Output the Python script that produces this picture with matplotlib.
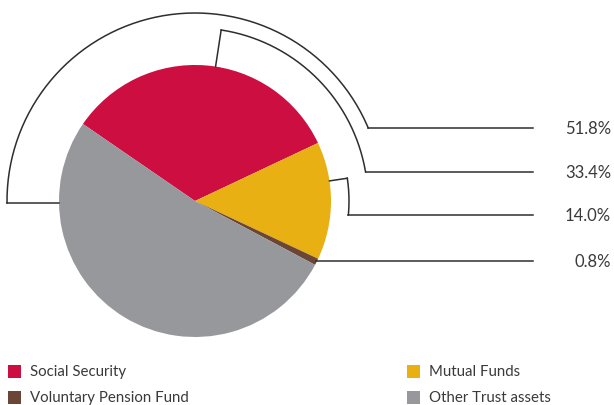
import numpy as np
import matplotlib
matplotlib.use("Agg")
import matplotlib.pyplot as plt
from matplotlib.patches import Rectangle

categories = ["Social Security", "Mutual Funds", "Voluntary Pension Fund", "Other Trust assets"]
values = [33.4, 14.0, 0.8, 51.8]
colors = ["#CC0E40", "#E9B013", "#6B4536", "#97989C"]
# bracket labels, top to bottom
label_values = [51.8, 33.4, 14.0, 0.8]
legend_order = ["Social Security", "Voluntary Pension Fund", "Mutual Funds", "Other Trust assets"]

W, H = 614, 406
fig = plt.figure(figsize=(W / 100, H / 100), dpi=100)
ax = fig.add_axes([0, 0, 1, 1])

def py(y):
    return H - y

cx, cy, R = 195, py(202), 136
ax.pie(values, colors=colors, startangle=145.5, counterclock=False,
       center=(cx, cy), radius=R, frame=True,
       wedgeprops=dict(linewidth=0, antialiased=True))
ax.set_xlim(0, W)
ax.set_ylim(0, H)
ax.axis("off")

lc = "#2e2e2e"
lw = 1.1
x_end = 533
levels = [129, 173, 216, 262]  # pixel y of bracket lines

def arc(r, a0, a1, n=200):
    t = np.radians(np.linspace(a0, a1, n))
    return cx + r * np.cos(t), cy + r * np.sin(t)

# outer bracket (51.8%)
r1 = 188
yl = py(levels[0])
a_end = np.degrees(np.arcsin((yl - cy) / r1))
xs, ys = arc(r1, 180.6, a_end)
ax.plot([cx - R * np.cos(np.radians(0.6)), xs[0]], [ys[0], ys[0]], color=lc, lw=lw)
ax.plot(xs, ys, color=lc, lw=lw)
ax.plot([xs[-1], x_end], [yl, yl], color=lc, lw=lw)

# middle bracket (33.4%)
r2 = 173
a0 = 81.3
yl = py(levels[1])
a_end = np.degrees(np.arcsin((yl - cy) / r2))
xs, ys = arc(r2, a0, a_end)
ax.plot([cx + R * np.cos(np.radians(a0)), xs[0]], [cy + R * np.sin(np.radians(a0)), ys[0]], color=lc, lw=lw)
ax.plot(xs, ys, color=lc, lw=lw)
ax.plot([xs[-1], x_end], [yl, yl], color=lc, lw=lw)

# inner bracket (14.0%)
r3 = 154
a0 = 8.5
yl = py(levels[2])
a_end = np.degrees(np.arcsin((yl - cy) / r3))
xs, ys = arc(r3, a0, a_end)
ax.plot([cx + R * np.cos(np.radians(a0)), xs[0]], [cy + R * np.sin(np.radians(a0)), ys[0]], color=lc, lw=lw)
ax.plot(xs, ys, color=lc, lw=lw)
ax.plot([xs[-1], x_end], [yl, yl], color=lc, lw=lw)

# bottom line (0.8%)
yl = py(levels[3])
x0 = cx + np.sqrt(R**2 - (yl - cy) ** 2) - 1
ax.plot([x0, x_end], [yl, yl], color=lc, lw=lw)

font = "Lato"
tc = "#3a3a3a"
for v, lev in zip(label_values, levels):
    ax.text(611, py(lev), f"{v:.1f}%", ha="right", va="center",
            fontsize=12, color=tc, family=font)

# legend
pos = {
    "Social Security": (8, 372),
    "Voluntary Pension Fund": (8, 398),
    "Mutual Funds": (407, 372),
    "Other Trust assets": (407, 398),
}
for name in legend_order:
    x, y = pos[name]
    c = colors[categories.index(name)]
    ax.add_patch(Rectangle((x, py(y) - 6.5), 13, 13, color=c, lw=0))
    ax.text(x + 22, py(y), name, ha="left", va="center", fontsize=10.8,
            color=tc, family=font)

fig.savefig("out.png", dpi=100)
